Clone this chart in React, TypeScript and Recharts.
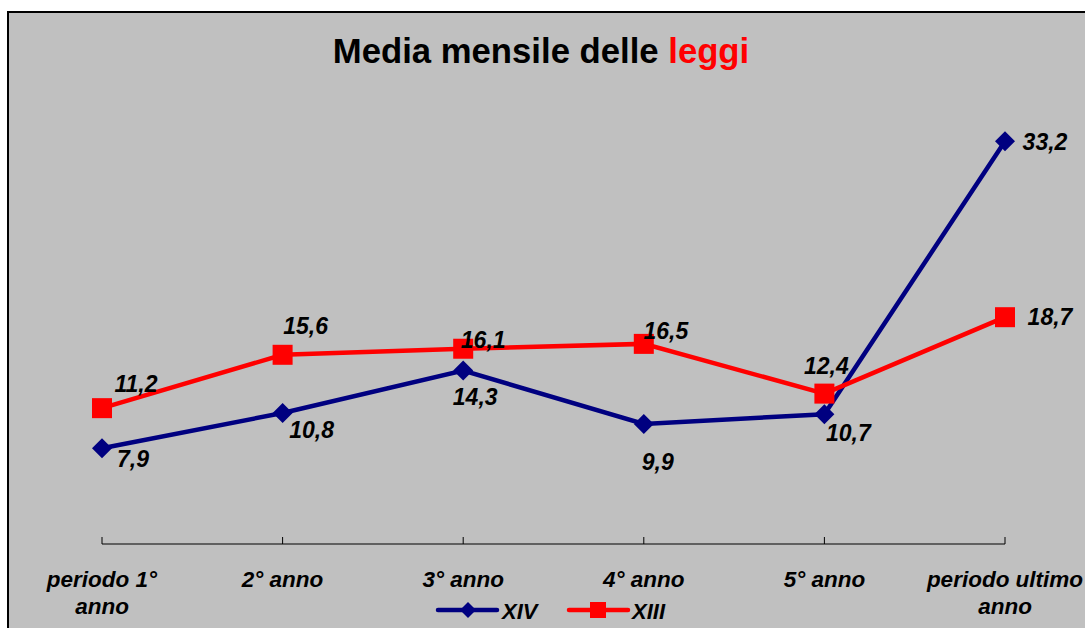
import { LineChart, Line, XAxis, YAxis, LabelList } from 'recharts';

const categories = ['periodo 1°\nanno', '2° anno', '3° anno', '4° anno', '5° anno', 'periodo ultimo\nanno'];
const xivValues = [7.9, 10.8, 14.3, 9.9, 10.7, 33.2];
const xiiiValues = [11.2, 15.6, 16.1, 16.5, 12.4, 18.7];

// hand-placed label offsets (dx = centre, dy = baseline) as in the original sheet
const xivLabelOffsets = [[31, 19], [29, 25], [12, 34], [14, 46], [24, 27], [40, 9]];
const xiiiLabelOffsets = [[34, -16], [23, -21], [20, -1], [22, -5], [2, -20], [45, 8]];

const data = categories.map((name, i) => ({ name, xiv: xivValues[i], xiii: xiiiValues[i] }));

const FONT = '"Liberation Sans", Arial, sans-serif';
const NAVY = '#000080';
const RED = '#FF0000';

const CategoryTick = (props: any) => {
  const { x, y, payload } = props;
  const lines = String(payload.value).split('\n');
  return (
    <g>
      <line x1={x} x2={x} y1={y} y2={y - 7} stroke="#000" strokeWidth={1} />
      {lines.map((line, i) => (
        <text
          key={i}
          x={x}
          y={y + 43 + i * 27}
          textAnchor="middle"
          fontFamily={FONT}
          fontSize={22.5}
          fontWeight="bold"
          fontStyle="italic"
          fill="#000"
        >
          {line}
        </text>
      ))}
    </g>
  );
};

const Diamond = (props: any) => {
  const { cx, cy } = props;
  if (cx == null || cy == null) return null;
  const r = 10;
  return <path d={`M${cx},${cy - r}L${cx + r},${cy}L${cx},${cy + r}L${cx - r},${cy}Z`} fill={NAVY} />;
};

const Square = (props: any) => {
  const { cx, cy } = props;
  if (cx == null || cy == null) return null;
  return <rect x={cx - 10} y={cy - 10} width={20} height={20} fill={RED} />;
};

const makeLabel = (offsets: number[][]) => (props: any) => {
  const { x, y, value, index } = props;
  const [dx, dy] = offsets[index] || [0, 0];
  return (
    <text
      x={x + dx}
      y={y + dy}
      textAnchor="middle"
      fontFamily={FONT}
      fontSize={23}
      fontWeight="bold"
      fontStyle="italic"
      fill="#000"
    >
      {Number(value).toFixed(1).replace('.', ',')}
    </text>
  );
};

export default function App() {
  return (
    <div style={{ position: 'absolute', left: 0, top: 0, width: 1085, height: 628, background: '#fff', overflow: 'hidden' }}>
      {/* grey chart area with the frame on left and top */}
      <div
        style={{
          position: 'absolute',
          left: 7,
          top: 11,
          width: 1100,
          height: 640,
          background: '#C0C0C0',
          borderLeft: '2px solid #000',
          borderTop: '2px solid #000',
        }}
      />
      <div style={{ position: 'absolute', left: 0, top: 0 }}>
        <LineChart width={1085} height={628} data={data} margin={{ top: 119.5, right: 80, bottom: 24, left: 102 }}>
          <XAxis
            dataKey="name"
            height={60}
            axisLine={{ stroke: '#000', strokeWidth: 1 }}
            tickLine={false}
            tickSize={0}
            tickMargin={0}
            interval={0}
            tick={(p: any) => <CategoryTick {...p} />}
          />
          <YAxis hide width={0} domain={[0, 35]} type="number" />
          <Line
            dataKey="xiv"
            name="XIV"
            type="linear"
            stroke={NAVY}
            strokeWidth={4.5}
            dot={<Diamond />}
            activeDot={false}
            isAnimationActive={false}
          >
            <LabelList dataKey="xiv" content={makeLabel(xivLabelOffsets)} />
          </Line>
          <Line
            dataKey="xiii"
            name="XIII"
            type="linear"
            stroke={RED}
            strokeWidth={4.5}
            dot={<Square />}
            activeDot={false}
            isAnimationActive={false}
          >
            <LabelList dataKey="xiii" content={makeLabel(xiiiLabelOffsets)} />
          </Line>
        </LineChart>
      </div>
      {/* title and legend */}
      <svg width={1085} height={628} style={{ position: 'absolute', left: 0, top: 0, pointerEvents: 'none' }}>
        <text x={541} y={63} textAnchor="middle" fontFamily={FONT} fontSize={34.7} fontWeight="bold">
          <tspan fill="#000">Media mensile delle </tspan>
          <tspan fill={RED}>leggi</tspan>
        </text>
        <g>
          <line x1={438} x2={497} y1={610} y2={610} stroke={NAVY} strokeWidth={4.5} strokeLinecap="round" />
          <path d="M468,602L476,610L468,618L460,610Z" fill={NAVY} />
          <text x={502} y={619} fontFamily={FONT} fontSize={22} fontWeight="bold" fontStyle="italic">
            XIV
          </text>
          <line x1={569} x2={628} y1={610} y2={610} stroke={RED} strokeWidth={4.5} strokeLinecap="round" />
          <rect x={590} y={602} width={16} height={16} fill={RED} />
          <text x={632} y={619} fontFamily={FONT} fontSize={22} fontWeight="bold" fontStyle="italic">
            XIII
          </text>
        </g>
      </svg>
    </div>
  );
}
